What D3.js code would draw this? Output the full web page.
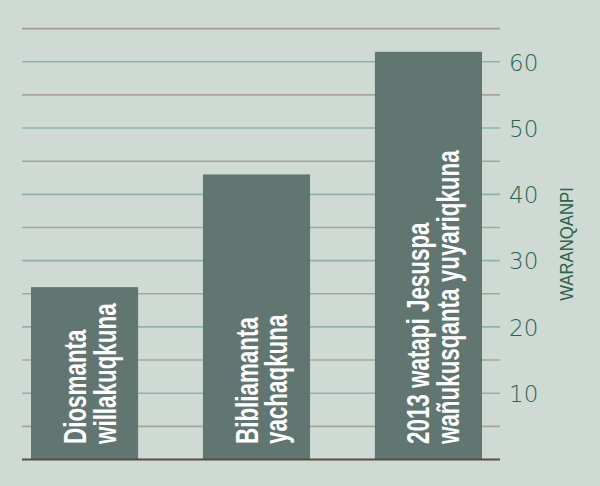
<!DOCTYPE html>
<html>
<head>
<meta charset="utf-8">
<script src="https://cdn.jsdelivr.net/npm/d3@7"></script>
<style>
  html, body { margin: 0; padding: 0; background: #cfdad5; }
  svg { display: block; }
</style>
</head>
<body>
<svg id="chart" width="600" height="486"></svg>
<script>
// ---- data ----
const categories = ["Diosmanta willakuqkuna", "Bibliamanta yachaqkuna", "2013 watapi Jesuspa wañukusqanta yuyariqkuna"];
const labelLines = [["Diosmanta", "willakuqkuna"], ["Bibliamanta", "yachaqkuna"], ["2013 watapi Jesuspa", "wañukusqanta yuyariqkuna"]];
const values = [26, 43, 61.5];
const gridTicks = [5, 10, 15, 20, 25, 30, 35, 40, 45, 50, 55, 60, 65];
const labelTicks = [10, 20, 30, 40, 50, 60];
const axisTitle = "WARANQANPI";

// ---- layout ----
const W = 600, H = 486;
const svg = d3.select("#chart");
svg.append("rect").attr("width", W).attr("height", H).attr("fill", "#cfdad5");

const x = d3.scaleBand().domain(categories).range([31, 482]).paddingInner(0.377).paddingOuter(0);
const y = d3.scaleLinear().domain([0, 65]).range([459.5, 28.6]);

const gridLeft = 22, gridRight = 500;

// gridlines
svg.append("g").selectAll("line").data(gridTicks).join("line")
  .attr("x1", gridLeft).attr("x2", gridRight)
  .attr("y1", d => y(d)).attr("y2", d => y(d))
  .attr("stroke", d => d === 65 ? "#a29c93" : (d % 10 === 0 ? "#8fb4a7" : "#aaa39a"))
  .attr("stroke-width", 1.6);

// bars
svg.append("g").selectAll("rect").data(values).join("rect")
  .attr("x", (d, i) => x(categories[i]))
  .attr("width", x.bandwidth())
  .attr("y", d => y(d))
  .attr("height", d => y(0) - y(d))
  .attr("fill", "#617571");

// baseline
svg.append("line")
  .attr("x1", gridLeft).attr("x2", gridRight)
  .attr("y1", y(0)).attr("y2", y(0))
  .attr("stroke", "#5b4c44").attr("stroke-width", 2);

// right axis labels
const yAxis = d3.axisRight(y).tickValues(labelTicks).tickSize(0).tickPadding(0).tickFormat(d3.format("d"));
const ax = svg.append("g").attr("transform", `translate(509,0)`).call(yAxis);
ax.select(".domain").remove();
ax.selectAll("text")
  .attr("x", 0).attr("dy", "0.36em")
  .attr("fill", "#2a644e")
  .style("font-family", "'DejaVu Sans', sans-serif")
  .style("font-weight", "200")
  .style("font-size", "23px");

// axis title
svg.append("text")
  .attr("transform", "translate(573,244) rotate(-90) scale(0.93,1)")
  .attr("text-anchor", "middle")
  .attr("fill", "#2a644e")
  .style("font-family", "'Liberation Sans', Arial, sans-serif")
  .style("font-size", "18px")
  .text(axisTitle);

// bar labels
const lbl = svg.append("g").selectAll("g").data(labelLines).join("g")
  .attr("transform", (d, i) => `translate(${x(categories[i]) + x.bandwidth() / 2},444) rotate(-90) scale(0.7,1)`);
lbl.selectAll("text").data(d => d).join("text")
  .attr("x", 0)
  .attr("y", (d, j) => 1 + j * 30)
  .attr("fill", "#ffffff")
  .style("font-family", "'Liberation Sans', Arial, sans-serif")
  .style("font-weight", "700")
  .style("font-size", "32px")
  .text(d => d);
</script>
</body>
</html>
